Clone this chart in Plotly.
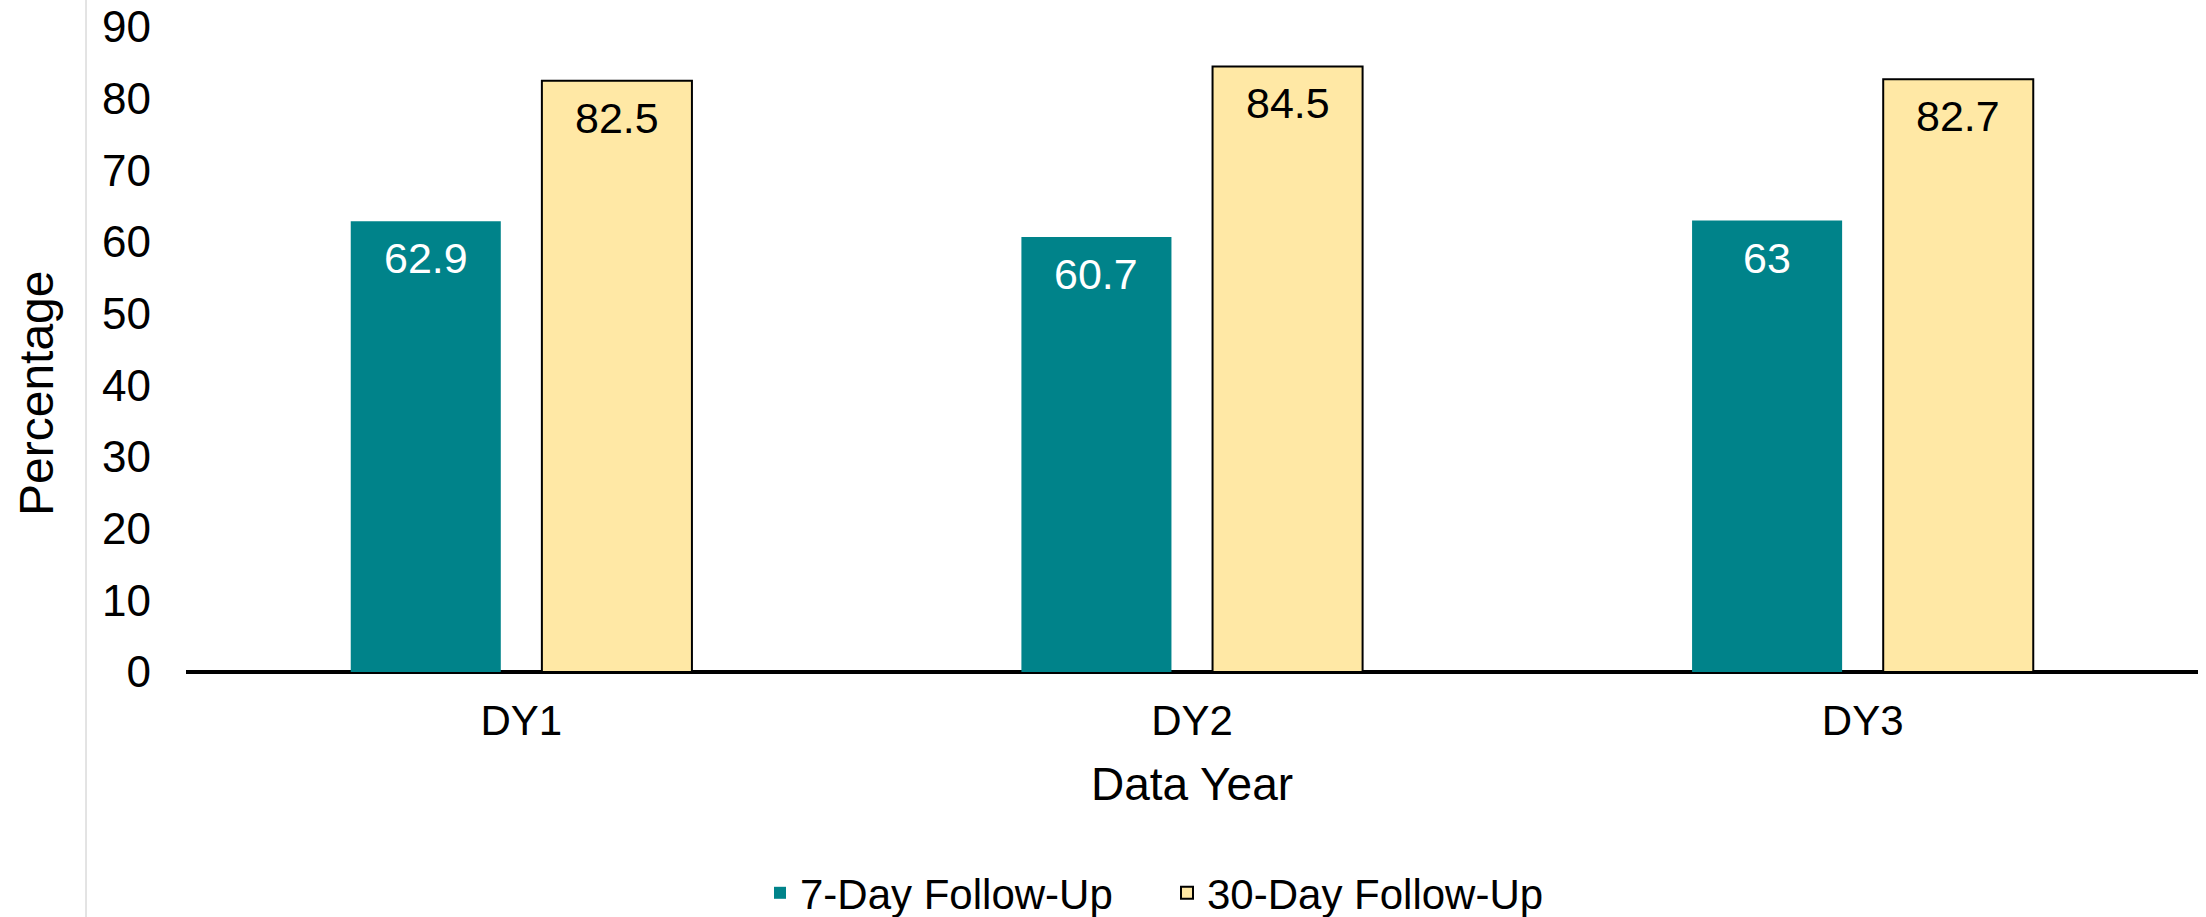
import plotly.graph_objects as go

# Data
years = ["DY1", "DY2", "DY3"]
seven_day = [62.9, 60.7, 63]
thirty_day = [82.5, 84.5, 82.7]
series_names = ["7-Day Follow-Up", "30-Day Follow-Up"]
y_ticks = [0, 10, 20, 30, 40, 50, 60, 70, 80, 90]

TEAL = "#00838A"
SAND = "#FFE8A5"
FONT = "Liberation Sans, Arial, sans-serif"

W, H = 2206, 917
M_L, M_R, M_T, M_B = 186, 8, 27, 245
BARGAP, GROUPGAP = 0.43, 0.215

fig = go.Figure()
fig.add_trace(go.Bar(
    x=years, y=seven_day, name=series_names[0],
    marker=dict(color=TEAL, line=dict(width=0)),
))
fig.add_trace(go.Bar(
    x=years, y=thirty_day, name=series_names[1],
    marker=dict(color=SAND, line=dict(color="#000000", width=2)),
))

# value labels sit just inside the top of each bar
plot_w = W - M_L - M_R
plot_h = H - M_T - M_B
slot = plot_w / len(years) * (1 - BARGAP) / 2
for vals, shift, col in ((seven_day, -slot / 2, "#FFFFFF"), (thirty_day, slot / 2, "#000000")):
    for cat, v in zip(years, vals):
        fig.add_annotation(
            x=cat, y=v, xref="x", yref="y", text=f"{v:g}", showarrow=False,
            xanchor="center", yanchor="top", xshift=shift, yshift=-11,
            font=dict(family=FONT, size=43, color=col),
        )

# y axis title
fig.add_annotation(
    x=(36 - M_L) / plot_w, y=(H - M_B - 393) / plot_h,
    xref="paper", yref="paper", text="Percentage", textangle=-90,
    showarrow=False, xanchor="center", yanchor="middle",
    font=dict(family=FONT, size=48, color="#000000"),
)

# thin grey frame edge on the left
fig.add_shape(
    type="line", xref="paper", yref="paper",
    x0=(86 - M_L) / plot_w, x1=(86 - M_L) / plot_w,
    y0=-M_B / plot_h - 0.01, y1=1 + M_T / plot_h + 0.01,
    line=dict(color="#C8C8C8", width=1),
)

fig.update_layout(
    width=W, height=H,
    margin=dict(l=M_L, r=M_R, t=M_T, b=M_B, pad=0, autoexpand=False),
    paper_bgcolor="#FFFFFF", plot_bgcolor="#FFFFFF",
    barmode="group", bargap=BARGAP, bargroupgap=GROUPGAP,
    font=dict(family=FONT, color="#000000"),
    showlegend=True,
    legend=dict(
        orientation="h", x=(760 - M_L) / plot_w, xanchor="left",
        y=(H - M_B - 893) / plot_h, yanchor="middle",
        font=dict(family=FONT, size=42, color="#000000"),
        entrywidth=362, entrywidthmode="pixels",
        bgcolor="rgba(0,0,0,0)",
    ),
    xaxis=dict(
        showgrid=False, showline=False, zeroline=False, ticks="",
        automargin=False,
        tickfont=dict(family=FONT, size=42, color="#000000"),
        ticklabelstandoff=20,
        title=dict(text="Data Year", font=dict(family=FONT, size=46, color="#000000"), standoff=24),
    ),
    yaxis=dict(
        range=[0, 90], tickvals=y_ticks, showgrid=False, showline=False,
        automargin=False,
        zeroline=True, zerolinecolor="#000000", zerolinewidth=4,
        ticks="", tickfont=dict(family=FONT, size=44, color="#000000"),
        ticklabelstandoff=34,
    ),
)

fig.write_html("out.html")
